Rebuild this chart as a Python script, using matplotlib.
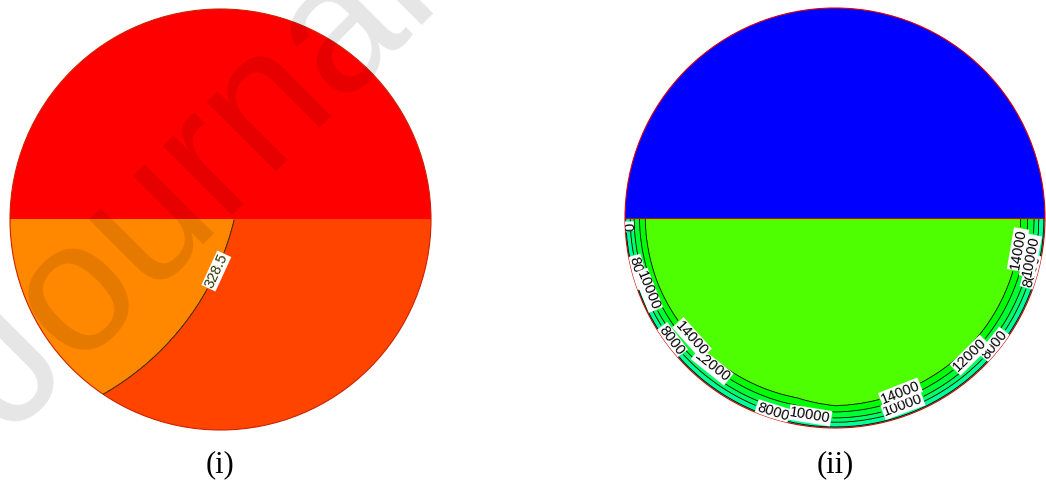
import numpy as np
import matplotlib.pyplot as plt
from matplotlib.patches import Circle, Wedge

# (i) temperature in the lower half: the 328.5 isotherm is an arc around front_origin
front_origin = (-1.2, 0.3)
front_radius = 1.30
temp_front = 328.5
temp_levels = [300.0, 328.5, 360.0]
temp_colors = ['#FF8800', '#FF4400']
temp_upper_color = '#FF0000'
temp_label_pos = [(-0.03, -0.24)]

# (ii) profile near the wall: depth from wall (fraction of radius) vs value,
# with a band-width factor measured at a few angles around the lower half
rim_depth = [0.0, 0.006, 0.029, 0.052, 0.083, 0.115, 0.25, 1.0]
rim_value = [-500, 0, 8000, 10000, 12000, 14000, 15500, 16000]
rim_angle = [180, 200, 230, 258, 270, 300, 330, 360]
rim_scale = [0.83, 0.87, 1.0, 1.08, 0.92, 1.0, 1.0, 1.0]
value_levels = [-1000, 0, 8000, 10000, 12000, 14000, 20000]
value_colors = ['#00FFB0', '#00FF99', '#00FF66', '#00FF33', '#00FF00', '#4DFF00']
value_upper_color = '#0000FF'
value_labels = {
    0: [(-0.96, -0.04)],
    8000: [(-0.97, -0.27), (-0.80, -0.60), (-0.31, -0.95), (0.77, -0.61), (0.95, -0.26)],
    10000: [(-0.88, -0.34), (-0.12, -0.95), (0.33, -0.91), (0.93, -0.18)],
    12000: [(-0.62, -0.75), (0.67, -0.68)],
    14000: [(-0.71, -0.60), (0.33, -0.87), (0.88, -0.15)],
}

W, H = 1046, 483
fig = plt.figure(figsize=(W / 100, H / 100), dpi=100)
plt.rcParams['font.family'] = ['Liberation Sans', 'DejaVu Sans']

def disk_axes(x0, y_top, size):
    ax = fig.add_axes([x0 / W, (H - y_top - size) / H, size / W, size / H])
    ax.set_xlim(-1, 1)
    ax.set_ylim(-1, 1)
    ax.set_aspect('equal')
    ax.axis('off')
    return ax

def labelled_line(ax, Z, level, positions, fmt, color, lw, clip):
    cs = ax.contour(X, Y, Z, levels=[level], colors=color, linewidths=lw)
    cs.set_clip_path(clip)
    if positions:
        ax.clabel(cs, manual=positions, fmt=fmt, fontsize=10.5, inline=True, inline_spacing=2)
        for t in cs.labelTexts:
            t.set_bbox(dict(facecolor='white', edgecolor='none', pad=0.5))
            t.set_clip_path(clip)
    return cs

x = np.linspace(-1, 1, 700)
y = np.linspace(-1, 0, 350)
X, Y = np.meshgrid(x, y)
R = np.hypot(X, Y)

# ---- (i)
ax1 = disk_axes(10, 9, 421)
clip1 = Circle((0, 0), 1, transform=ax1.transData)
ax1.add_patch(Wedge((0, 0), 1, 0, 180, color=temp_upper_color, lw=0))
T = temp_front + 20 * (np.hypot(X - front_origin[0], Y - front_origin[1]) - front_radius)
cf1 = ax1.contourf(X, Y, T, levels=temp_levels, colors=temp_colors)
cf1.set_clip_path(clip1)
labelled_line(ax1, T, temp_front, temp_label_pos, '%.1f', '#333300', 0.7, clip1)
ax1.add_patch(Circle((0, 0), 1, fill=False, ec='#CC2200', lw=0.8, clip_on=False))

# ---- (ii)
ax2 = disk_axes(625, 8, 420)
clip2 = Circle((0, 0), 1, transform=ax2.transData)
ax2.add_patch(Wedge((0, 0), 1, 0, 180, color=value_upper_color, lw=0))
theta = np.degrees(np.arctan2(Y, X)) % 360
theta[theta < 90] += 360
depth = (1 - R) / np.interp(theta, rim_angle, rim_scale)
V = np.interp(depth, rim_depth, rim_value)
cf2 = ax2.contourf(X, Y, V, levels=value_levels, colors=value_colors)
cf2.set_clip_path(clip2)
for lvl in value_levels[1:-1]:
    labelled_line(ax2, V, lvl, value_labels.get(lvl, []), '%d', 'black', 0.6, clip2)
ax2.plot([-1, 1], [0, 0], color='#CC0000', lw=0.8)
ax2.add_patch(Circle((0, 0), 1, fill=False, ec='#DD0000', lw=0.8, clip_on=False))

fig.text(220 / W, 1 - 465 / H, '(i)', ha='center', va='center', fontsize=22, family='Liberation Serif')
fig.text(835 / W, 1 - 465 / H, '(ii)', ha='center', va='center', fontsize=22, family='Liberation Serif')

fig.text(11.5 / W, 1 - 436.5 / H, 'Journal Pre-proof', rotation=45, rotation_mode='anchor',
         ha='left', va='baseline', fontsize=134, family='Liberation Sans',
         color='black', alpha=0.1, zorder=10)

fig.savefig('out.png', dpi=100)
